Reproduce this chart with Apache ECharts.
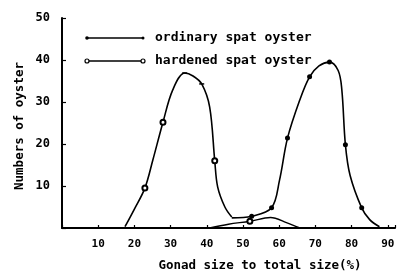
<!DOCTYPE html>
<html>
<head>
<meta charset="utf-8">
<script src="https://cdn.jsdelivr.net/npm/echarts@6/dist/echarts.min.js"></script>
<style>html,body{margin:0;padding:0;background:#fff}#c{width:400px;height:274px}</style>
</head>
<body>
<div id="c"></div>
<script>
// Data (x: gonad size %, y: numbers of oyster)
var ordinaryX = [46.9, 52.4, 57.9, 60.1, 62.3, 65.7, 68.4, 71.0, 73.9, 76.3, 77.3, 78.3, 79.6, 82.8, 85.0, 87.7];
var ordinaryY = [2.4, 2.8, 4.8, 11.4, 21.4, 30.5, 36.0, 38.6, 39.5, 37.5, 33.0, 19.8, 12.5, 4.8, 2.0, 0.3];
var ordinaryMarked = [52.4, 57.9, 62.3, 68.4, 73.9, 78.3, 82.8];

var hardenedX = [17.4, 20.0, 22.9, 25.1, 27.9, 30.6, 33.9, 36.2, 38.6, 40.8, 42.2, 43.0, 45.0, 46.9];
var hardenedY = [0.3, 4.5, 9.5, 16.2, 25.2, 32.9, 36.9, 36.2, 34.3, 28.8, 16.0, 9.8, 5.0, 2.6];
var hardenedCircles = [22.9, 27.9, 42.2];
var hardenedDashes = [33.9, 38.6];

var lowX = [40.8, 46.0, 51.9, 57.6, 62.0, 65.7];
var lowY = [0.0, 0.9, 1.6, 2.5, 1.3, 0.0];
var lowCircles = [51.9];

var xTicks = [10, 20, 30, 40, 50, 60, 70, 80, 90];
var yTicks = [10, 20, 30, 40, 50];
var legendNames = ['ordinary spat oyster', 'hardened spat oyster'];
var xTitle = 'Gonad size to total size(%)';
var yTitle = 'Numbers of oyster';

var FONT = '"DejaVu Sans Mono", "Liberation Mono", monospace';

function build(xs, ys, dots, circles, dashes) {
  return xs.map(function (x, i) {
    var item = { value: [x, ys[i]], symbol: 'none' };
    if (dots && dots.indexOf(x) >= 0) { item.symbol = 'circle'; item.symbolSize = 5; item.itemStyle = { color: '#000' }; }
    if (circles && circles.indexOf(x) >= 0) { item.symbol = 'emptyCircle'; item.symbolSize = 5; item.itemStyle = { color: '#000', borderWidth: 1.2 }; }
    if (dashes && dashes.indexOf(x) >= 0) { item.symbol = 'rect'; item.symbolSize = [5, 1.5]; item.itemStyle = { color: '#000' }; }
    return item;
  });
}

var chart = echarts.init(document.getElementById('c'), null, { renderer: 'canvas' });
var lineStyle = { color: '#000', width: 1.6 };
chart.setOption({
  animation: false,
  backgroundColor: '#fff',
  grid: { left: 62, right: 5, top: 18, bottom: 46 },
  xAxis: {
    type: 'value', min: 0, max: 92, interval: 10,
    axisLine: { lineStyle: { color: '#000', width: 2 } },
    axisTick: { inside: true, length: 3, lineStyle: { color: '#000', width: 1.2 } },
    splitLine: { show: false },
    axisLabel: {
      margin: 11, color: '#000', fontFamily: FONT, fontWeight: 'bold', fontSize: 11,
      formatter: function (v) { return xTicks.indexOf(v) >= 0 ? String(v) : ''; }
    }
  },
  yAxis: {
    type: 'value', min: 0, max: 50, interval: 10,
    axisLine: { show: true, lineStyle: { color: '#000', width: 2 } },
    axisTick: { show: true, inside: true, length: 4, lineStyle: { color: '#000', width: 1.2 } },
    splitLine: { show: false },
    axisLabel: {
      margin: 12, color: '#000', fontFamily: FONT, fontWeight: 'bold', fontSize: 12,
      formatter: function (v) { return yTicks.indexOf(v) >= 0 ? String(v) : ''; }
    }
  },
  graphic: [
    { type: 'line', shape: { x1: 87, y1: 38, x2: 143, y2: 38 }, style: { stroke: '#000', lineWidth: 1.6 } },
    { type: 'circle', shape: { cx: 87, cy: 38, r: 1.8 }, style: { fill: '#000' } },
    { type: 'circle', shape: { cx: 143, cy: 38, r: 1.5 }, style: { fill: '#000' } },
    { type: 'text', left: 155, top: 31, style: { text: legendNames[0], font: 'bold 13px ' + FONT, fill: '#000' } },
    { type: 'line', shape: { x1: 87, y1: 61, x2: 143, y2: 61 }, style: { stroke: '#000', lineWidth: 1.6 } },
    { type: 'circle', shape: { cx: 87, cy: 61, r: 2 }, style: { fill: '#fff', stroke: '#000', lineWidth: 1.2 } },
    { type: 'circle', shape: { cx: 143, cy: 61, r: 2 }, style: { fill: '#fff', stroke: '#000', lineWidth: 1.2 } },
    { type: 'text', left: 155, top: 54, style: { text: legendNames[1], font: 'bold 13px ' + FONT, fill: '#000' } },
    { type: 'text', x: 260, y: 266, style: { text: xTitle, font: 'bold 12.5px ' + FONT, fill: '#000', align: 'center', verticalAlign: 'middle' } },
    { type: 'text', x: 20, y: 126, rotation: Math.PI / 2, style: { text: yTitle, font: 'bold 12.5px ' + FONT, fill: '#000', align: 'center', verticalAlign: 'middle' } }
  ],
  series: [
    { name: legendNames[0], type: 'line', smooth: 0.35, data: build(ordinaryX, ordinaryY, ordinaryMarked), lineStyle: lineStyle, itemStyle: { color: '#000' } },
    { name: legendNames[1], type: 'line', smooth: 0.35, data: build(hardenedX, hardenedY, null, hardenedCircles, hardenedDashes), lineStyle: lineStyle, itemStyle: { color: '#000' } },
    { name: legendNames[1] + ' (low)', type: 'line', smooth: 0.35, data: build(lowX, lowY, null, lowCircles), lineStyle: { color: '#000', width: 1.4 }, itemStyle: { color: '#000' } }
  ]
});
</script>
</body>
</html>
